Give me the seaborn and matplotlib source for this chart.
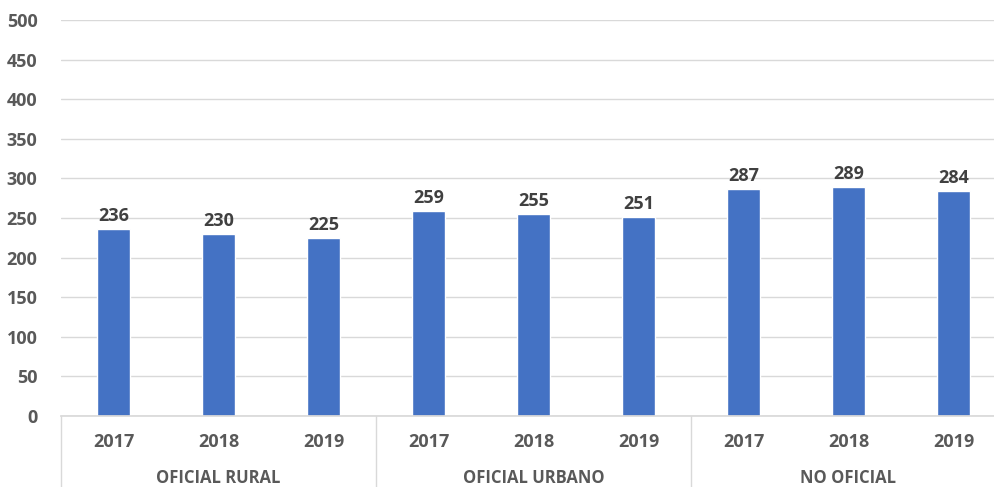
import matplotlib
matplotlib.use("Agg")
import matplotlib.pyplot as plt
import seaborn as sns
import pandas as pd

groups = ["OFICIAL RURAL", "OFICIAL URBANO", "NO OFICIAL"]
years = ["2017", "2018", "2019"]
values = [236, 230, 225, 259, 255, 251, 287, 289, 284]

cats = [f"{g}|{y}" for g in groups for y in years]
df = pd.DataFrame({"cat": cats, "value": values})

sns.set_theme(style="white")
plt.rcParams['font.family'] = ['Open Sans', 'DejaVu Sans']

W, H = 994, 487
fig = plt.figure(figsize=(W / 100, H / 100), dpi=100)
left, right, top, bottom = 61, 1006, 20, 416
ax = fig.add_axes([left / W, (H - bottom) / H, (right - left) / W, (bottom - top) / H])

bar_color = "#4472C4"
text_color = "#595959"
grid_color = "#D9D9D9"

sns.barplot(data=df, x="cat", y="value", order=cats, color=bar_color,
            width=0.32, saturation=1, ax=ax)

ax.set_ylim(0, 500)
ax.set_xlim(-0.5, len(cats) - 0.5)
ax.set_yticks(range(0, 501, 50))
ax.yaxis.grid(True, color=grid_color, linewidth=1)
ax.set_axisbelow(True)
for s in ["top", "right", "left"]:
    ax.spines[s].set_visible(False)
ax.spines["bottom"].set_color(grid_color)
ax.tick_params(axis="y", length=0, pad=17, labelsize=13, labelcolor=text_color)
for lab in ax.get_yticklabels():
    lab.set_fontweight("bold")
ax.set_xticks(range(len(cats)))
ax.set_xticklabels([y for g in groups for y in years])
ax.tick_params(axis="x", length=0, pad=12, labelsize=13, labelcolor=text_color)
for lab in ax.get_xticklabels():
    lab.set_fontweight("bold")
ax.set_xlabel("")
ax.set_ylabel("")

for i, v in enumerate(values):
    ax.annotate(str(v), (i, v), xytext=(0, 3), textcoords="offset points",
                ha="center", va="bottom", fontsize=13, fontweight="bold",
                color="#404040")

# group separators and labels
trans = ax.get_xaxis_transform()
for k in range(len(groups) + 1):
    x = k * 3 - 0.5
    ax.plot([x, x], [0, -72 / (bottom - top)], transform=trans, color=grid_color,
            linewidth=1, clip_on=False)
for k, g in enumerate(groups):
    ax.text(k * 3 + 1, -62 / (bottom - top), g, transform=trans, ha="center",
            va="center", fontsize=12, fontweight="bold", color=text_color)

fig.savefig("out.png", dpi=100)
